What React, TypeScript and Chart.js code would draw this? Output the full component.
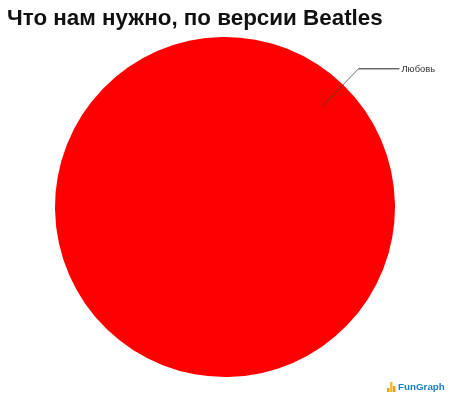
import { useEffect, useRef } from "react";
import Chart from "chart.js/auto";

const categories = ["Любовь"];
const values = [100];
const colors = ["#ff0000"];
const titleText = "Что нам нужно, по версии Beatles";
const logoBars = [4, 10, 6];

// title, leader line with label, and the small logo in the corner
const annotations = {
  id: "annotations",
  afterDraw(chart: any) {
    const ctx = chart.ctx;
    const arc = chart.getDatasetMeta(0).data[0];
    const { x, y, startAngle, endAngle, outerRadius } = arc.getProps(
      ["x", "y", "startAngle", "endAngle", "outerRadius"],
      true
    );
    const mid = (startAngle + endAngle) / 2;

    ctx.save();
    ctx.fillStyle = "#111111";
    ctx.textBaseline = "middle";
    ctx.textAlign = "left";
    ctx.font = "bold 22.4px 'Liberation Sans'";
    ctx.fillText(titleText, 7, 19);

    // leader goes from inside the slice out to the label
    const elbowX = x + Math.cos(mid) * outerRadius * 1.13;
    const elbowY = y + Math.sin(mid) * outerRadius * 1.13;
    ctx.beginPath();
    ctx.moveTo(x + Math.cos(mid) * outerRadius * 0.82, y + Math.sin(mid) * outerRadius * 0.82);
    ctx.lineTo(elbowX, elbowY);
    ctx.strokeStyle = "rgba(60, 60, 60, 0.75)";
    ctx.lineWidth = 1;
    ctx.stroke();
    ctx.beginPath();
    ctx.moveTo(elbowX, elbowY);
    ctx.lineTo(elbowX + 41, elbowY);
    ctx.strokeStyle = "#222222";
    ctx.stroke();

    ctx.fillStyle = "#333333";
    ctx.font = "9.4px 'Liberation Sans'";
    ctx.fillText(categories[0], elbowX + 43, elbowY + 0.5);

    // FunGraph logo
    logoBars.forEach((h, i) => {
      ctx.fillStyle = i === 1 ? "#f5c020" : "#e8a020";
      ctx.fillRect(387 + i * 3, 392 - h, 2.5, h);
    });
    ctx.fillStyle = "#1a7fc0";
    ctx.font = "bold 9.8px 'Liberation Sans'";
    ctx.fillText("FunGraph", 398, 387);
    ctx.restore();
  },
};

const App = () => {
  const chartRef = useRef<HTMLCanvasElement | null>(null);

  useEffect(() => {
    if (!chartRef.current) return;
    document.body.style.margin = "0";

    const chart = new Chart(chartRef.current, {
      type: "pie",
      data: {
        labels: categories,
        datasets: [{ data: values, backgroundColor: colors, borderWidth: 0 }],
      },
      options: {
        responsive: false,
        animation: false,
        rotation: -136,
        layout: { padding: { top: 37, bottom: 23, left: 55, right: 55 } },
        plugins: {
          legend: { display: false },
          tooltip: { enabled: false },
        },
      },
      plugins: [annotations],
    });

    return () => chart.destroy();
  }, []);

  return <canvas ref={chartRef} width={450} height={400} style={{ display: "block" }} />;
};

export default App;
